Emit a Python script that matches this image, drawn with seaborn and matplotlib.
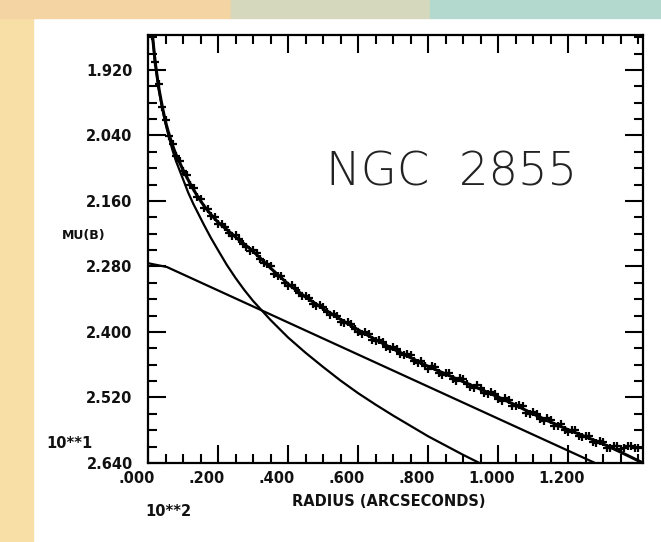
import matplotlib
matplotlib.use("Agg")
import matplotlib.pyplot as plt
import matplotlib.transforms as mtransforms
from matplotlib.patches import Rectangle
from matplotlib.ticker import FixedLocator, MultipleLocator
import pandas as pd
import seaborn as sns

# ---------------- data ----------------
# radius in units of 10**2 arcsec, MU(B) in units of 10**1 mag
data_r = [0.012, 0.02, 0.03, 0.04, 0.05, 0.06, 0.07, 0.08, 0.09, 0.10,
          0.11, 0.12, 0.13, 0.14, 0.15, 0.16, 0.17, 0.18, 0.19, 0.20,
          0.22, 0.24, 0.26, 0.28, 0.30, 0.32, 0.34, 0.36, 0.38, 0.40,
          0.42, 0.44, 0.46, 0.48, 0.50, 0.52, 0.54, 0.56, 0.58, 0.60,
          0.62, 0.64, 0.66, 0.68, 0.70, 0.72, 0.74, 0.76, 0.78, 0.80,
          0.82, 0.84, 0.86, 0.88, 0.90, 0.92, 0.94, 0.96, 0.98, 1.00,
          1.02, 1.04, 1.06, 1.08, 1.10, 1.12, 1.14, 1.16, 1.18, 1.20,
          1.22, 1.24, 1.26, 1.28, 1.30, 1.32, 1.34, 1.36, 1.38, 1.40]
data_mu = [1.857, 1.906, 1.946, 1.988, 2.012, 2.041, 2.055, 2.078, 2.087, 2.106,
           2.113, 2.131, 2.137, 2.153, 2.157, 2.172, 2.175, 2.188, 2.190, 2.202,
           2.207, 2.224, 2.229, 2.244, 2.249, 2.267, 2.275, 2.293, 2.297, 2.315,
           2.319, 2.335, 2.337, 2.352, 2.354, 2.369, 2.370, 2.384, 2.385, 2.400,
           2.400, 2.414, 2.414, 2.428, 2.428, 2.441, 2.441, 2.454, 2.453, 2.467,
           2.465, 2.478, 2.476, 2.489, 2.487, 2.501, 2.498, 2.512, 2.510, 2.523,
           2.521, 2.535, 2.533, 2.548, 2.546, 2.560, 2.558, 2.572, 2.569, 2.583,
           2.580, 2.593, 2.591, 2.603, 2.601, 2.612, 2.609, 2.613, 2.609, 2.612]

# intermediate measurements (odd hundredths)
data_r_mid = [0.21, 0.23, 0.25, 0.27, 0.29, 0.31, 0.33, 0.35, 0.37, 0.39,
              0.41, 0.43, 0.45, 0.47, 0.49, 0.51, 0.53, 0.55, 0.57, 0.59,
              0.61, 0.63, 0.65, 0.67, 0.69, 0.71, 0.73, 0.75, 0.77, 0.79,
              0.81, 0.83, 0.85, 0.87, 0.89, 0.91, 0.93, 0.95, 0.97, 0.99,
              1.01, 1.03, 1.05, 1.07, 1.09, 1.11, 1.13, 1.15, 1.17, 1.19,
              1.21, 1.23, 1.25, 1.27, 1.29, 1.31, 1.33, 1.35, 1.37, 1.39]
data_mu_mid = [2.202, 2.219, 2.223, 2.238, 2.251, 2.256, 2.274, 2.279, 2.297, 2.310,
               2.314, 2.328, 2.334, 2.348, 2.350, 2.364, 2.367, 2.381, 2.382, 2.394,
               2.404, 2.404, 2.417, 2.419, 2.432, 2.431, 2.443, 2.443, 2.456, 2.462,
               2.463, 2.475, 2.475, 2.486, 2.484, 2.496, 2.503, 2.502, 2.514, 2.514,
               2.526, 2.525, 2.536, 2.536, 2.550, 2.551, 2.563, 2.562, 2.573, 2.580,
               2.579, 2.590, 2.590, 2.601, 2.599, 2.612, 2.608, 2.614, 2.609, 2.613]

fit_r = [0.013, 0.02, 0.03, 0.04, 0.05, 0.06, 0.07, 0.08, 0.10, 0.12,
         0.14, 0.16, 0.18, 0.20, 0.25, 0.30, 0.35, 0.40, 0.45, 0.50,
         0.55, 0.60, 0.65, 0.70, 0.75, 0.80, 0.85, 0.90, 0.95, 1.00,
         1.05, 1.10, 1.15, 1.20, 1.25, 1.30, 1.35, 1.414]
fit_mu = [1.858, 1.903, 1.950, 1.985, 2.015, 2.038, 2.058, 2.075, 2.103, 2.128,
          2.150, 2.169, 2.185, 2.199, 2.226, 2.252, 2.283, 2.312, 2.336, 2.357,
          2.377, 2.396, 2.414, 2.431, 2.447, 2.463, 2.477, 2.491, 2.505, 2.519,
          2.534, 2.550, 2.565, 2.579, 2.592, 2.605, 2.620, 2.640]

bulge_r = [0.013, 0.02, 0.03, 0.04, 0.05, 0.06, 0.07, 0.08, 0.10, 0.115,
           0.13, 0.145, 0.16, 0.18, 0.20, 0.225, 0.25, 0.275, 0.30, 0.35,
           0.40, 0.45, 0.50, 0.55, 0.60, 0.65, 0.70, 0.75, 0.80, 0.85,
           0.90, 0.95]
bulge_mu = [1.859, 1.905, 1.953, 1.988, 2.018, 2.044, 2.067, 2.087, 2.120, 2.145,
            2.166, 2.185, 2.204, 2.228, 2.250, 2.277, 2.301, 2.323, 2.343, 2.378,
            2.410, 2.438, 2.464, 2.489, 2.512, 2.533, 2.553, 2.572, 2.591, 2.608,
            2.625, 2.641]

disk_r = [0.0, 0.054, 1.277]
disk_mu = [2.274, 2.281, 2.640]

x_ticks = [0.0, 0.2, 0.4, 0.6, 0.8, 1.0, 1.2]
x_tick_labels = [".000", ".200", ".400", ".600", ".800", "1.000", "1.200"]
y_ticks = [1.92, 2.04, 2.16, 2.28, 2.40, 2.52, 2.64]
y_tick_labels = ["1.920", "2.040", "2.160", "2.280", "2.400", "2.520", "2.640"]

title_text = "NGC  2855"
x_label = "RADIUS (ARCSECONDS)"
y_label = "MU(B)"
x_scale_text = "10**2"
y_scale_text = "10**1"

# ---------------- figure ----------------
sns.set_theme(style="ticks")
plt.rcParams["font.family"] = ["DejaVu Sans"]

W, H = 661, 542
fig = plt.figure(figsize=(W / 100, H / 100), dpi=100, facecolor="white")

# faded slide background round the edges
fig.patches.append(Rectangle((0, 0), 33 / W, 1, transform=fig.transFigure,
                             color="#f7dfa6", zorder=0))
fig.patches.append(Rectangle((0, 1 - 18 / H), 0.35, 18 / H, transform=fig.transFigure,
                             color="#f3d4a2", zorder=0))
fig.patches.append(Rectangle((0.35, 1 - 18 / H), 0.3, 18 / H, transform=fig.transFigure,
                             color="#d6d8bd", zorder=0))
fig.patches.append(Rectangle((0.65, 1 - 18 / H), 0.35, 18 / H, transform=fig.transFigure,
                             color="#b3d8ce", zorder=0))

ax = fig.add_axes([148 / W, 1 - 463 / H, (643 - 148) / W, (463 - 35) / H])
ax.set_facecolor("white")

df_data = pd.DataFrame({"r": data_r + data_r_mid, "mu": data_mu + data_mu_mid})
df_fit = pd.DataFrame({"r": fit_r, "mu": fit_mu})
df_bulge = pd.DataFrame({"r": bulge_r, "mu": bulge_mu})
df_disk = pd.DataFrame({"r": disk_r, "mu": disk_mu})

sns.lineplot(data=df_fit, x="r", y="mu", ax=ax, color="black", linewidth=2.2,
             sort=False, estimator=None)
for d in (df_bulge, df_disk):
    sns.lineplot(data=d, x="r", y="mu", ax=ax, color="black", linewidth=1.6,
                 sort=False, estimator=None)
sns.scatterplot(data=df_data, x="r", y="mu", ax=ax, marker="+", s=32,
                color="black", linewidth=1.6)

ax.set_xlim(0, 1.414)
ax.set_ylim(2.640, 1.856)

ax.xaxis.set_major_locator(FixedLocator(x_ticks))
ax.set_xticklabels(x_tick_labels)
ax.xaxis.set_minor_locator(MultipleLocator(0.05))
ax.yaxis.set_major_locator(FixedLocator(y_ticks))
ax.set_yticklabels(y_tick_labels)
ax.yaxis.set_minor_locator(MultipleLocator(0.03))

ax.tick_params(which="both", direction="in", top=True, right=True,
               color="black", width=1.5)
ax.tick_params(which="major", length=13)
ax.tick_params(which="minor", length=6.5)
ax.tick_params(axis="y", pad=11)
ax.tick_params(axis="x", pad=6)

for lab in ax.get_xticklabels() + ax.get_yticklabels():
    lab.set_fontfamily("DejaVu Sans")
    lab.set_fontweight("bold")
    lab.set_fontsize(10.5)
    lab.set_color("#111111")

offset = mtransforms.ScaledTranslation(-30 / 100, 0, fig.dpi_scale_trans)
for lab in ax.get_xticklabels():
    lab.set_horizontalalignment("left")
    lab.set_transform(lab.get_transform() + offset)

for s in ax.spines.values():
    s.set_linewidth(1.6)
    s.set_color("black")

ax.set_xlabel("")
ax.set_ylabel("")

fig.text(389 / W, 1 - 502 / H, x_label, ha="center", va="center",
         fontsize=10.5, fontweight="bold", color="#111111")
fig.text(62 / W, 1 - 235 / H, y_label, ha="left", va="center",
         fontsize=9, fontweight="bold", color="#111111")
fig.text(145 / W, 1 - 511 / H, x_scale_text, ha="left", va="center",
         fontsize=10.5, fontweight="bold", color="#111111")
fig.text(46 / W, 1 - 443 / H, y_scale_text, ha="left", va="center",
         fontsize=10.5, fontweight="bold", color="#111111")

fig.text(452 / W, 1 - 173 / H, title_text, ha="center", va="center",
         fontsize=33.5, fontfamily=["DejaVu Sans"], fontweight="light",
         color="#222222")

fig.savefig("out.png", dpi=100, facecolor=fig.get_facecolor())
